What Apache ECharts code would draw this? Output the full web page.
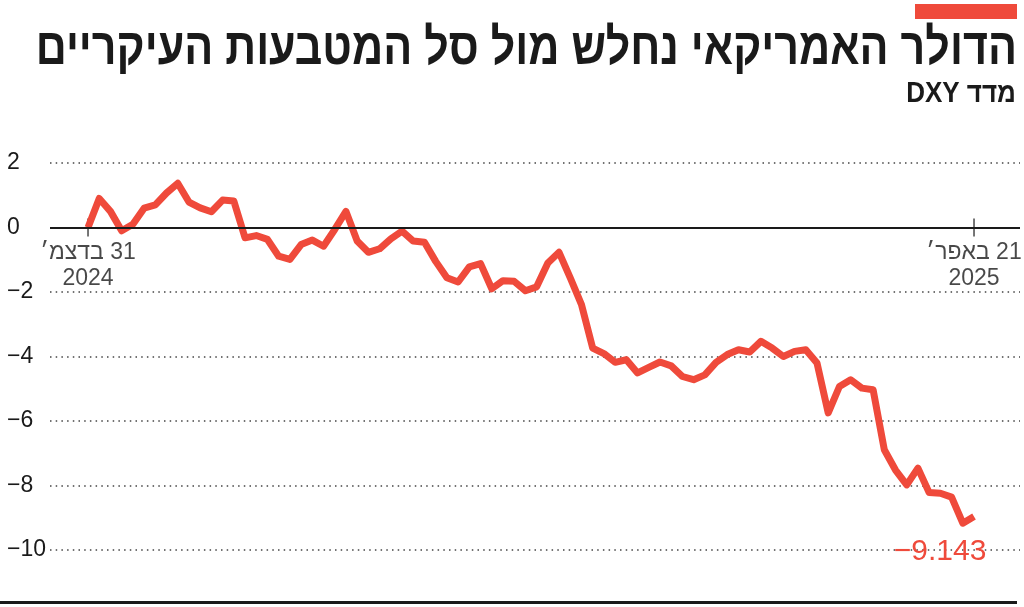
<!DOCTYPE html>
<html>
<head>
    <meta charset="utf-8">
    <style>
        html, body {
            height: 100%;
            margin: 0;
            padding: 0;
            background: #fff;
        }

        .container {
            width: 1024px;
            height: 607px;
        }
    </style>
</head>
<body>
<div id="main" class="container"></div>

<script src="https://cdn.jsdelivr.net/npm/echarts@6/dist/echarts.min.js"></script>
<script type="text/javascript">
// DXY, שינוי מצטבר באחוזים, ימי מסחר 31.12.2024 - 21.4.2025
var values = [
    0, 0.9, 0.5, -0.1, 0.1, 0.6, 0.7, 1.07, 1.37, 0.79,
    0.61, 0.49, 0.85, 0.82, -0.32, -0.25, -0.37, -0.89, -0.99, -0.53,
    -0.39, -0.58, -0.06, 0.5, -0.42, -0.77, -0.66, -0.35, -0.11, -0.42,
    -0.46, -1.05, -1.56, -1.69, -1.22, -1.12, -1.9, -1.65, -1.67, -1.96,
    -1.84, -1.1, -0.77, -1.56, -2.39, -3.74, -3.91, -4.18, -4.1, -4.51,
    -4.34, -4.17, -4.29, -4.62, -4.72, -4.57, -4.18, -3.94, -3.79, -3.86,
    -3.53, -3.74, -4.0, -3.84, -3.79, -4.2, -5.75, -4.93, -4.72, -4.98,
    -5.03, -6.89, -7.52, -7.98, -7.46, -8.22, -8.24, -8.36, -9.17, -8.96
];
var tickIndex = [0, values.length - 1];
var tickLabels = ['31 בדצמ׳\n2024', '21 באפר׳\n2025'];
var yTicks = [2, 0, -2, -4, -6, -8, -10];
var endValueText = '\u22129.143';

var titleText = 'הדולר האמריקאי נחלש מול סל המטבעות העיקריים';
var subTitleText = 'מדד DXY';

var RED = '#ef4a3b';
var INK = '#1a1a1a';
var FONT = '"Liberation Sans Narrow", "Liberation Sans", sans-serif';
var RLE = '\u202B', PDF = '\u202C';

function rtl(s) {
    // כל שורה בנפרד, כי zrender מצייר כל שורה לבד
    return s.split('\n').map(function (l) { return RLE + l + PDF; }).join('\n');
}

var chart = echarts.init(document.getElementById('main'));

var option = {
    animation: false,
    graphic: [
        {type: 'rect', shape: {x: 915, y: 4, width: 102, height: 15}, style: {fill: RED}},
        {type: 'rect', shape: {x: 0, y: 601, width: 1017, height: 3}, style: {fill: INK}},
        {
            // כותרת - מתוחה אנכית כדי לדמות גופן צפוף
            type: 'text',
            x: 1017,
            y: 25,
            scaleY: 1.18,
            style: {
                text: titleText,
                align: 'right',
                verticalAlign: 'top',
                fill: INK,
                font: 'bold 43px "Liberation Sans", sans-serif'
            }
        },
        {
            type: 'text',
            x: 1016,
            y: 80,
            scaleY: 1.1,
            style: {
                text: rtl(subTitleText),
                align: 'right',
                verticalAlign: 'top',
                fill: INK,
                font: 'bold 26px ' + FONT
            }
        }
    ],
    grid: {left: 50, right: 4, top: 163, bottom: 57},
    xAxis: {
        type: 'value',
        min: -3.39,
        max: 83.1,
        show: false
    },
    yAxis: {
        type: 'value',
        min: yTicks[yTicks.length - 1],
        max: yTicks[0],
        interval: 2,
        axisLine: {show: false},
        axisTick: {show: false},
        axisLabel: {
            align: 'left',
            margin: 43,
            color: INK,
            fontSize: 23,
            fontFamily: FONT,
            formatter: function (v) {
                return v < 0 ? '\u2212' + Math.abs(v) : String(v);
            }
        },
        splitLine: {
            lineStyle: {color: '#444', width: 1.5, type: [1.5, 4.2]}
        }
    },
    series: [
        {
            type: 'scatter',
            z: 1,
            symbol: 'rect',
            symbolSize: [1.5, 18],
            itemStyle: {color: INK},
            silent: true,
            data: tickIndex.map(function (idx, k) {
                return {
                    value: [idx, 0],
                    label: {
                        show: true,
                        position: 'bottom',
                        distance: 3,
                        formatter: rtl(tickLabels[k]),
                        color: INK,
                        fontSize: 23,
                        lineHeight: 26,
                        fontFamily: FONT
                    }
                };
            }),
            markLine: {
                silent: true,
                symbol: 'none',
                label: {show: false},
                lineStyle: {color: INK, width: 2, type: 'solid'},
                data: [{yAxis: 0}]
            }
        },
        {
            type: 'line',
            z: 3,
            showSymbol: false,
            silent: true,
            lineStyle: {color: RED, width: 7, join: 'round'},
            data: values.map(function (v, i) { return [i, v]; }),
            markPoint: {
                symbol: 'circle',
                symbolSize: 0,
                label: {
                    show: true,
                    formatter: endValueText,
                    color: RED,
                    fontSize: 30,
                    fontFamily: '"Liberation Sans", sans-serif',
                    offset: [-34, 35]
                },
                data: [{coord: [values.length - 1, values[values.length - 1]]}]
            }
        }
    ]
};

chart.setOption(option);
</script>
</body>
</html>
